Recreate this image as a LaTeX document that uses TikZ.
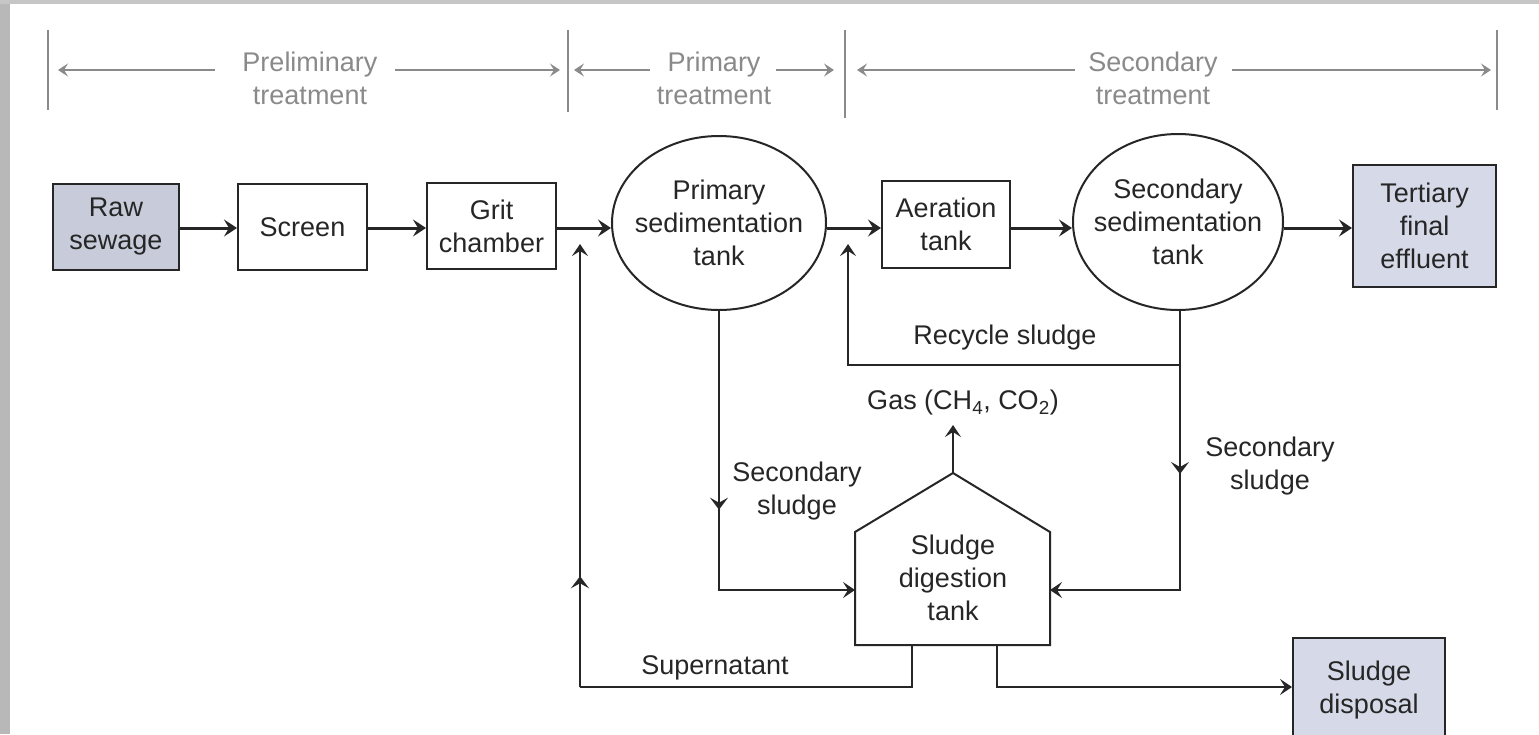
\documentclass[tikz,border=0pt]{standalone}
\usepackage{fontspec}
\setmainfont{Liberation Sans}
\usetikzlibrary{arrows.meta,decorations.markings,calc,shapes.geometric}
\definecolor{ink}{HTML}{262626}
\definecolor{hdr}{HTML}{8A8A8A}
\definecolor{boxfill}{HTML}{D6DAE8}
\definecolor{rawfill}{HTML}{C8CCDA}
\definecolor{strip}{HTML}{B8B8B8}
\tikzset{
  tip/.style={-{Stealth[length=13pt,width=17pt,inset=5pt]}},
  txt/.style={font=\fontsize{27}{33}\selectfont, text=ink, align=center, inner sep=0pt},
  htxt/.style={font=\fontsize{27}{33}\selectfont, text=hdr, align=center, inner sep=0pt},
  boxnode/.style={txt, draw=ink, line width=2pt, minimum width=#1},
  ellnode/.style={draw=ink, line width=2pt, ellipse, inner sep=0pt},
  flow/.style={draw=ink, line width=3pt, tip},
  conn/.style={draw=ink, line width=2pt},
  conntip/.style={conn, -{Stealth[length=12pt,width=16pt,inset=5pt]}},
  hline/.style={draw=hdr, line width=1.2pt},
  harrow/.style={hline, -{Stealth[length=10pt,width=13pt,inset=4pt]}},
  midup/.style={postaction={decorate}, decoration={markings, mark=at position #1 with {\arrow{Stealth[length=12pt,width=18pt,inset=5pt]}}}},
}
\begin{document}
\begin{tikzpicture}[x=1pt,y=-1pt]
\useasboundingbox (0,0) rectangle (1539,734);
\fill[white] (0,0) rectangle (1539,734);
\fill[strip] (0,0) rectangle (10,734);
\fill[strip!80] (0,0) rectangle (1539,4);

% header
\draw[hline] (48,30) -- (48,110);
\draw[hline] (568,30) -- (568,112);
\draw[hline] (845,30) -- (845,118);
\draw[hline] (1497,30) -- (1497,110);
\node[htxt] (hpre) at (310,78) {Preliminary\\treatment};
\node[htxt] (hpri) at (714,78) {Primary\\treatment};
\node[htxt] (hsec) at (1153,78) {Secondary\\treatment};
\coordinate (p1) at (58,70); \coordinate (p2) at (215,70);
\coordinate (p3) at (395,70); \coordinate (p4) at (560,70);
\coordinate (q1) at (574,70); \coordinate (q2) at (650,70);
\coordinate (q3) at (776,70); \coordinate (q4) at (834,70);
\coordinate (r1) at (857,70); \coordinate (r2) at (1075,70);
\coordinate (r3) at (1232,70); \coordinate (r4) at (1491,70);
\draw[harrow] (p2) -- (p1);
\draw[harrow] (p3) -- (p4);
\draw[harrow] (q2) -- (q1);
\draw[harrow] (q3) -- (q4);
\draw[harrow] (r2) -- (r1);
\draw[harrow] (r3) -- (r4);

% main nodes
\node[boxnode=126pt, minimum height=86pt, fill=rawfill] (raw) at (116,227) {Raw\\sewage};
\node[boxnode=129pt, minimum height=86pt] (screen) at (302.5,227) {Screen};
\node[boxnode=129pt, minimum height=86pt] (grit) at (491.5,226) {Grit\\chamber};
\node[ellnode, minimum width=214pt, minimum height=174pt] (prim) at (719,223) {};
\node[txt] (primtxt) at (prim.center) {Primary\\sedimentation\\tank};
\node[boxnode=128pt, minimum height=87pt] (aer) at (946,224.5) {Aeration\\tank};
\node[ellnode, minimum width=210pt, minimum height=176pt] (sec) at (1178,222) {};
\node[txt] (sectxt) at (sec.center) {Secondary\\sedimentation\\tank};
\node[boxnode=143pt, minimum height=122pt, fill=boxfill] (tert) at (1424.5,226) {Tertiary\\final\\effluent};
\node[boxnode=152pt, minimum height=104pt, fill=boxfill] (disp) at (1369,690) {Sludge\\disposal};

% digestion tank (house shape)
\coordinate (dBL) at (855,645); \coordinate (dBR) at (1050,645);
\coordinate (dSR) at (1050,532); \coordinate (dAp) at (953,473);
\coordinate (dSL) at (855,532);
\draw[ink, line width=2pt] (dBL) -- (dBR) -- (dSR) -- (dAp) -- (dSL) -- cycle;
\node[txt] (dig) at (953,578) {Sludge\\digestion\\tank};

% main flow
\draw[flow] (raw.east |- 0,228) -- (screen.west |- 0,228);
\draw[flow] (screen.east |- 0,228) -- (grit.west |- 0,228);
\draw[flow] (grit.east |- 0,228) -- (prim.west |- 0,228);
\draw[flow] (prim.east |- 0,228) -- (aer.west |- 0,228);
\draw[flow] (aer.east |- 0,228) -- (sec.west |- 0,228);
\draw[flow] (sec.east |- 0,228) -- (tert.west |- 0,228);

% sludge lines
\coordinate (pd) at (719,310);
\coordinate (pc) at (719,590);
\coordinate (dL) at (855,590);
\draw[conntip, midup=0.48] (pd) -- (pc) -- (dL);

\coordinate (sd) at (1180,310);
\coordinate (sc) at (1180,590);
\coordinate (dR) at (1050,590);
\draw[conntip, midup=0.40] (sd) -- (sc) -- (dR);

\coordinate (rj) at (1180,365);
\coordinate (rc) at (848,365);
\coordinate (rt) at (848,244);
\draw[conntip] (rj) -- (rc) -- (rt);

\coordinate (gt) at (953,425);
\draw[conntip] (dAp) -- (gt);

\coordinate (s0) at (912,645);
\coordinate (s1) at (912,687);
\coordinate (s2) at (580,687);
\coordinate (s3) at (580,244);
\draw[conn] (s0) -- (s1) -- (s2);
\draw[conntip, midup=0.25] (s2) -- (s3);

\coordinate (d0) at (997,645);
\coordinate (d1) at (997,687);
\draw[conntip] (d0) -- (d1) -- (disp.west |- 0,687);

% labels
\node[txt] (lrec) at (1005,338) {Recycle sludge};
\node[txt] (lgas) at (963,403) {Gas (CH\textsubscript{4}, CO\textsubscript{2})};
\node[txt] (lss1) at (797,491) {Secondary\\sludge};
\node[txt] (lss2) at (1270,466) {Secondary\\sludge};
\node[txt] (lsup) at (715,668) {Supernatant};
\end{tikzpicture}
\end{document}
